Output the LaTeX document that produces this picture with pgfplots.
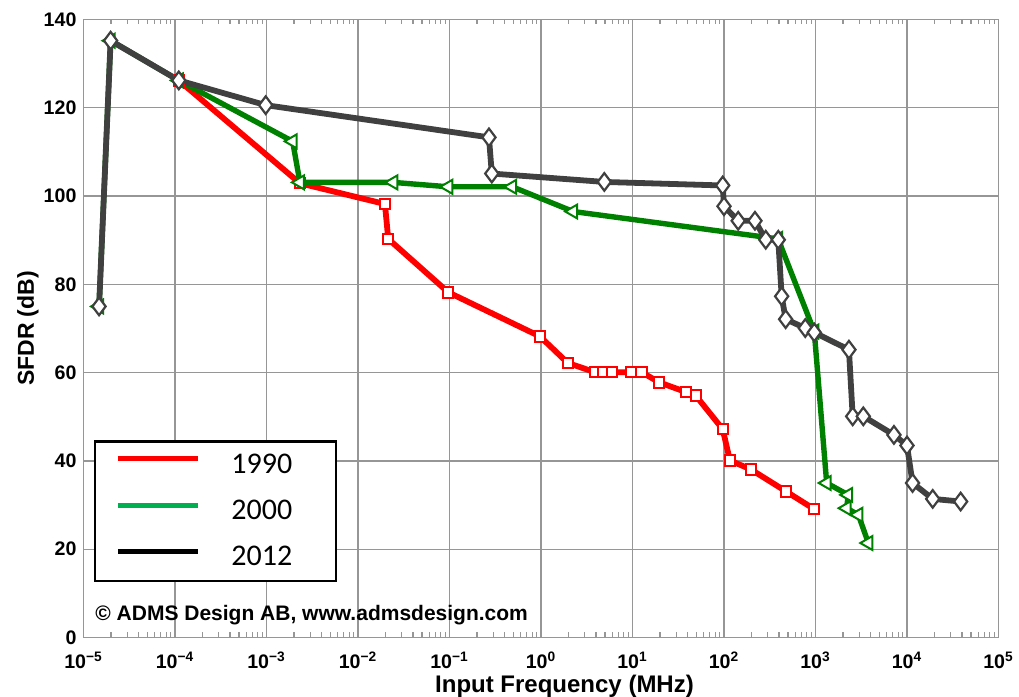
\documentclass[border=0pt]{standalone}
\usepackage{fontspec}
\setmainfont{Liberation Sans}
\newfontfamily\carlito{Carlito}
\usepackage{pgfplots}
\pgfplotsset{compat=1.18}
\usetikzlibrary{calc}

\definecolor{c1990}{RGB}{255,0,0}
\definecolor{c2000}{RGB}{0,128,0}
\definecolor{c2012}{RGB}{64,64,64}
\definecolor{leg2000}{RGB}{0,176,80}
\definecolor{gridgray}{RGB}{150,150,150}

\begin{document}
\begin{tikzpicture}
\begin{axis}[
    name=ax,
    xmode=log,
    scale only axis,
    width=457.5pt, height=309pt,
    xmin=1e-5, xmax=1e5,
    ymin=0, ymax=140,
    xtick={1e-5,1e-4,1e-3,1e-2,1e-1,1,1e1,1e2,1e3,1e4,1e5},
    xticklabels={10\textsuperscript{−5},10\textsuperscript{−4},10\textsuperscript{−3},10\textsuperscript{−2},10\textsuperscript{−1},10\textsuperscript{0},10\textsuperscript{1},10\textsuperscript{2},10\textsuperscript{3},10\textsuperscript{4},10\textsuperscript{5}},
    ytick={0,20,...,140},
    /pgf/number format/assume math mode=true,
    grid=major,
    major grid style={gridgray, line width=0.7pt},
    axis line style={gridgray, line width=0.8pt},
    tick style={gridgray, line width=0.6pt},
    major tick length=4pt, minor tick length=2.5pt,
    tick label style={font=\fontsize{9.8}{10}\selectfont\bfseries, black},
    xticklabel style={yshift=-3.5pt},
    xlabel={Input Frequency (MHz)},
    ylabel={SFDR (dB)},
    xlabel style={font=\fontsize{12}{12}\selectfont\bfseries, at={(axis description cs:0.5,0)}, anchor=center, yshift=-24.25pt, xshift=11.75pt},
    ylabel style={font=\fontsize{11.5}{12}\selectfont\bfseries, at={(axis description cs:0,0.5)}, anchor=center, yshift=27.75pt},
    legend cell align=left,
    legend style={at={(0.0115,0.319)}, anchor=north west, draw=black, line width=1.2pt, fill=white,
        font=\carlito\fontsize{15}{15}\selectfont, inner xsep=10pt, inner ysep=4pt, row sep=8pt,
        /tikz/every odd column/.append style={column sep=13.5pt}},
    legend image code/.code={\draw[#1, line width=2.6pt] (0pt,0.3em) -- (40pt,0.3em);},
]
% 1990
\addplot[forget plot, c1990, line width=2.9pt, mark=square*, mark size=2.6pt,
    mark options={fill=white, draw=c1990, line width=1pt}] coordinates {
    (1.1e-4,126.2) (2.32e-3,102.9) (0.0197,98.2) (0.0214,90.3) (0.097,78.2)
    (0.975,68.2) (1.96,62.2) (3.89,60.1) (4.8,60.1) (5.93,60.1) (9.8,60.1)
    (12.6,60.1) (19.6,57.8) (38.5,55.6) (49.1,54.8) (96.8,47.2) (116,40.1)
    (196,38.1) (476,33.1) (964,29.1)
};
% 2000
\addplot[forget plot, c2000, line width=2.7pt, mark=triangle*, mark size=4pt,
    mark options={fill=white, draw=c2000, line width=1pt, rotate=90}] coordinates {
    (1.48e-5,75.0) (1.98e-5,135.2) (1.1e-4,126.2) (1.93e-3,112.4) (2.32e-3,103.1)
    (0.0243,103.1) (0.097,102.1) (0.485,102.1) (2.25,96.5) (390,90.3)
    (970,69.3) (1325,35.0) (2280,32.3) (2190,29.3) (2940,27.8) (3780,21.4)
};
% 2012
\addplot[forget plot, c2012, line width=2.9pt, mark=diamond*, mark size=4.4pt,
    mark options={fill=white, draw=c2012, line width=1.1pt}] coordinates {
    (1.48e-5,75.0) (1.98e-5,135.2) (1.1e-4,126.2) (9.8e-4,120.6) (0.27,113.3)
    (0.29,105.1) (4.92,103.2) (96.8,102.4) (100,97.7) (143,94.4) (218,94.4)
    (286,90.1) (392,90.1) (427,77.3) (472,72.1) (773,70.1) (970,69.1)
    (2320,65.2) (2550,50.1) (3330,50.1) (7200,45.9) (10000,43.5) (11500,35.0)
    (19100,31.4) (38600,30.8)
};
\addlegendimage{c1990}
\addlegendentry{1990\hspace*{10pt}}
\addlegendimage{leg2000}
\addlegendentry{2000\hspace*{10pt}}
\addlegendimage{black}
\addlegendentry{2012\hspace*{10pt}}
\node[anchor=base west, font=\fontsize{10.5}{11}\selectfont\bfseries, inner sep=0pt]
    at (axis description cs:0.0126,0.0267) {© ADMS Design AB, www.admsdesign.com};
\end{axis}
\pgfresetboundingbox
\path ($(ax.south west)+(-41.75pt,-29.75pt)$) rectangle ($(ax.south west)+(467.75pt,318.75pt)$);
\end{tikzpicture}
\end{document}
